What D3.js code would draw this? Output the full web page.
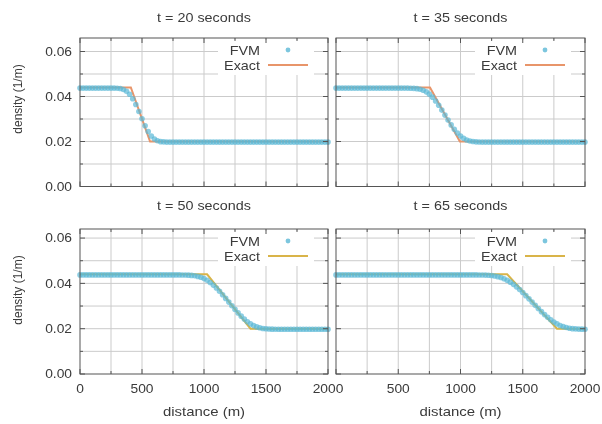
<!DOCTYPE html>
<html>
<head>
<meta charset="utf-8">
<script src="https://cdn.jsdelivr.net/npm/d3@7"></script>
<style>
  html, body { margin: 0; padding: 0; background: #fff; }
  svg { display: block; }
  text { font-family: "Liberation Sans", Arial, Helvetica, sans-serif; fill: #3a3a3a; }
</style>
</head>
<body>
<svg id="chart" width="602" height="424"></svg>
<script>
// ---------------- DATA ----------------
const distance = [
  0, 25, 50, 75, 100, 125, 150, 175, 200, 225,
  250, 275, 300, 325, 350, 375, 400, 425, 450, 475,
  500, 525, 550, 575, 600, 625, 650, 675, 700, 725,
  750, 775, 800, 825, 850, 875, 900, 925, 950, 975,
  1000, 1025, 1050, 1075, 1100, 1125, 1150, 1175, 1200, 1225,
  1250, 1275, 1300, 1325, 1350, 1375, 1400, 1425, 1450, 1475,
  1500, 1525, 1550, 1575, 1600, 1625, 1650, 1675, 1700, 1725,
  1750, 1775, 1800, 1825, 1850, 1875, 1900, 1925, 1950, 1975,
  2000
];

const fvm20 = [
  0.044, 0.044, 0.044, 0.044, 0.044, 0.044, 0.044, 0.044, 0.044, 0.044,
  0.044, 0.044, 0.0439, 0.0438, 0.0434, 0.0426, 0.0413, 0.0393, 0.0367, 0.0336,
  0.0304, 0.0273, 0.0247, 0.0227, 0.0214, 0.0206, 0.0202, 0.0201, 0.020, 0.020,
  0.020, 0.020, 0.020, 0.020, 0.020, 0.020, 0.020, 0.020, 0.020, 0.020,
  0.020, 0.020, 0.020, 0.020, 0.020, 0.020, 0.020, 0.020, 0.020, 0.020,
  0.020, 0.020, 0.020, 0.020, 0.020, 0.020, 0.020, 0.020, 0.020, 0.020,
  0.020, 0.020, 0.020, 0.020, 0.020, 0.020, 0.020, 0.020, 0.020, 0.020,
  0.020, 0.020, 0.020, 0.020, 0.020, 0.020, 0.020, 0.020, 0.020, 0.020,
  0.020
];

const fvm35 = [
  0.044, 0.044, 0.044, 0.044, 0.044, 0.044, 0.044, 0.044, 0.044, 0.044,
  0.044, 0.044, 0.044, 0.044, 0.044, 0.044, 0.044, 0.044, 0.044, 0.044,
  0.044, 0.044, 0.044, 0.0440, 0.04395, 0.04389, 0.04375, 0.04348, 0.04305, 0.04233,
  0.04131, 0.03997, 0.03829, 0.03636, 0.03423, 0.0320, 0.02977, 0.02764, 0.02571, 0.02403,
  0.02269, 0.02167, 0.02095, 0.02052, 0.02025, 0.02011, 0.02005, 0.020, 0.020, 0.020,
  0.020, 0.020, 0.020, 0.020, 0.020, 0.020, 0.020, 0.020, 0.020, 0.020,
  0.020, 0.020, 0.020, 0.020, 0.020, 0.020, 0.020, 0.020, 0.020, 0.020,
  0.020, 0.020, 0.020, 0.020, 0.020, 0.020, 0.020, 0.020, 0.020, 0.020,
  0.020
];

const fvm50 = [
  0.044, 0.044, 0.044, 0.044, 0.044, 0.044, 0.044, 0.044, 0.044, 0.044,
  0.044, 0.044, 0.044, 0.044, 0.044, 0.044, 0.044, 0.044, 0.044, 0.044,
  0.044, 0.044, 0.044, 0.044, 0.044, 0.044, 0.044, 0.044, 0.044, 0.044,
  0.044, 0.044, 0.0440, 0.04398, 0.04395, 0.04390, 0.04379, 0.04362, 0.04335, 0.04294,
  0.04237, 0.04162, 0.04066, 0.03951, 0.03820, 0.03677, 0.03523, 0.03363, 0.0320, 0.03037,
  0.02877, 0.02723, 0.02580, 0.02449, 0.02334, 0.02238, 0.02163, 0.02106, 0.02065, 0.02038,
  0.02021, 0.02010, 0.02005, 0.02002, 0.020, 0.020, 0.020, 0.020, 0.020, 0.020,
  0.020, 0.020, 0.020, 0.020, 0.020, 0.020, 0.020, 0.020, 0.020, 0.020,
  0.020
];

const fvm65 = [
  0.044, 0.044, 0.044, 0.044, 0.044, 0.044, 0.044, 0.044, 0.044, 0.044,
  0.044, 0.044, 0.044, 0.044, 0.044, 0.044, 0.044, 0.044, 0.044, 0.044,
  0.044, 0.044, 0.044, 0.044, 0.044, 0.044, 0.044, 0.044, 0.044, 0.044,
  0.044, 0.044, 0.044, 0.044, 0.044, 0.044, 0.044, 0.044, 0.044, 0.044,
  0.044, 0.044, 0.044, 0.044, 0.044, 0.0440, 0.04398, 0.04395, 0.04391, 0.04383,
  0.04371, 0.04351, 0.04323, 0.04283, 0.04231, 0.04163, 0.04080, 0.03983, 0.03873, 0.03752,
  0.03621, 0.03484, 0.03343, 0.0320, 0.03057, 0.02916, 0.02779, 0.02648, 0.02527, 0.02417,
  0.02320, 0.02237, 0.02169, 0.02117, 0.02077, 0.02049, 0.02029, 0.02017, 0.02009, 0.02005,
  0.02002
];

// Exact (piecewise-linear) solutions: breakpoints in distance and density
const exactX20 = [0, 410, 565, 2000];
const exactX35 = [0, 755, 995, 2000];
const exactX50 = [0, 1025, 1375, 2000];
const exactX65 = [0, 1375, 1775, 2000];
const exactRho = [0.044, 0.044, 0.020, 0.020];

const titles = ["t = 20 seconds", "t = 35 seconds", "t = 50 seconds", "t = 65 seconds"];
const seriesNames = ["FVM", "Exact"];
const xTicks = [0, 500, 1000, 1500, 2000];
const xMinorTicks = [250, 750, 1250, 1750];
const yTicks = [0, 0.02, 0.04, 0.06];
const yMinorTicks = [0.01, 0.03, 0.05];
const yTickLabels = ["0.00", "0.02", "0.04", "0.06"];
const xLabel = "distance (m)";
const yLabel = "density (1/m)";

// ---------------- LAYOUT ----------------
const panelBoxes = [
  { x0: 80,  x1: 328, y0: 38,  y1: 186.5, ymax: 0.066, col: 0, row: 0 },
  { x0: 336, x1: 585, y0: 38,  y1: 186.5, ymax: 0.066, col: 1, row: 0 },
  { x0: 80,  x1: 328, y0: 229, y1: 374,   ymax: 0.064, col: 0, row: 1 },
  { x0: 336, x1: 585, y0: 229, y1: 374,   ymax: 0.064, col: 1, row: 1 }
];
const fvmSets = [fvm20, fvm35, fvm50, fvm65];
const exactSets = [exactX20, exactX35, exactX50, exactX65];
const exactColors = ["#e8956a", "#e8956a", "#d9b448", "#d9b448"];
const fvmColor = "#5ab8d6";
const gridColor = "#cbcbcb";
const borderColor = "#555";
const SX = 1.15; // horizontal stretch of text seen in the reference

const svg = d3.select("#chart");
const defs = svg.append("defs");
defs.append("filter").attr("id", "soft")
  .attr("x", "-5%").attr("y", "-5%").attr("width", "110%").attr("height", "110%")
  .append("feGaussianBlur").attr("stdDeviation", 0.35);
const root = svg.append("g").attr("filter", "url(#soft)");

function hText(g, x, y, str, size, anchor) {
  return g.append("text")
    .attr("transform", `translate(${x},${y}) scale(${SX},1)`)
    .attr("text-anchor", anchor || "middle")
    .style("font-size", size + "px")
    .text(str);
}

panelBoxes.forEach((p, i) => {
  const g = root.append("g");
  const x = d3.scaleLinear().domain([0, 2000]).range([p.x0, p.x1]);
  const y = d3.scaleLinear().domain([0, p.ymax]).range([p.y1, p.y0]);

  // grid
  const gridX = xTicks.concat(xMinorTicks).filter(v => v > 0 && v < 2000);
  const gridY = yTicks.concat(yMinorTicks).filter(v => v > 0);
  g.selectAll(".gx").data(gridX).join("line")
    .attr("x1", d => x(d)).attr("x2", d => x(d))
    .attr("y1", p.y0).attr("y2", p.y1)
    .attr("stroke", gridColor).attr("stroke-width", 1);
  g.selectAll(".gy").data(gridY).join("line")
    .attr("x1", p.x0).attr("x2", p.x1)
    .attr("y1", d => y(d)).attr("y2", d => y(d))
    .attr("stroke", gridColor).attr("stroke-width", 1);

  // legend background
  g.append("rect")
    .attr("x", p.x1 - 110).attr("y", p.y0 + 2)
    .attr("width", 96).attr("height", 35)
    .attr("fill", "#fff");

  // exact line
  const exData = exactSets[i].map((d, k) => [d, exactRho[k]]);
  const line = d3.line().x(d => x(d[0])).y(d => y(d[1]));
  g.append("path").datum(exData)
    .attr("d", line)
    .attr("fill", "none")
    .attr("stroke", exactColors[i])
    .attr("stroke-width", 2);

  // FVM points
  const pts = distance.map((d, k) => [d, fvmSets[i][k]]);
  g.selectAll(".pt").data(pts).join("circle")
    .attr("cx", d => x(d[0])).attr("cy", d => y(d[1]) + 0.6)
    .attr("r", 2.8)
    .attr("fill", fvmColor)
    .attr("fill-opacity", 0.7);

  // border
  g.append("rect")
    .attr("x", p.x0).attr("y", p.y0)
    .attr("width", p.x1 - p.x0).attr("height", p.y1 - p.y0)
    .attr("fill", "none").attr("stroke", borderColor).attr("stroke-width", 1);

  // ticks (inward, mirrored)
  const tickG = g.append("g").attr("stroke", borderColor).attr("stroke-width", 1);
  xTicks.concat(xMinorTicks).forEach(v => {
    const len = xTicks.includes(v) ? 5 : 3;
    tickG.append("line").attr("x1", x(v)).attr("x2", x(v)).attr("y1", p.y1).attr("y2", p.y1 - len);
    tickG.append("line").attr("x1", x(v)).attr("x2", x(v)).attr("y1", p.y0).attr("y2", p.y0 + len);
  });
  yTicks.concat(yMinorTicks).forEach(v => {
    const len = yTicks.includes(v) ? 5 : 3;
    tickG.append("line").attr("y1", y(v)).attr("y2", y(v)).attr("x1", p.x0).attr("x2", p.x0 + len);
    tickG.append("line").attr("y1", y(v)).attr("y2", y(v)).attr("x1", p.x1).attr("x2", p.x1 - len);
  });

  // legend
  hText(g, p.x1 - 68, p.y0 + 17, seriesNames[0], 12.5, "end");
  hText(g, p.x1 - 68, p.y0 + 32, seriesNames[1], 12.5, "end");
  g.append("circle").attr("cx", p.x1 - 40).attr("cy", p.y0 + 12)
    .attr("r", 2.4).attr("fill", fvmColor).attr("fill-opacity", 0.8);
  g.append("line")
    .attr("x1", p.x1 - 60).attr("x2", p.x1 - 20)
    .attr("y1", p.y0 + 27).attr("y2", p.y0 + 27)
    .attr("stroke", exactColors[i]).attr("stroke-width", 2);

  // title
  const cx = (p.x0 + p.x1) / 2;
  hText(g, cx, p.row === 0 ? 22 : 210, titles[i], 12.5, "middle");

  // y tick labels + label (left column)
  if (p.col === 0) {
    yTicks.forEach((v, k) => {
      hText(g, 72, y(v) + 4.3, yTickLabels[k], 12, "end");
    });
    g.append("text")
      .attr("transform", `translate(22, ${p.row === 0 ? 99 : 290}) rotate(-90)`)
      .attr("text-anchor", "middle")
      .style("font-size", "12px")
      .text(yLabel);
  }
  // x tick labels + label (bottom row)
  if (p.row === 1) {
    xTicks.forEach(v => {
      if (p.col === 1 && v === 0) return;
      hText(g, x(v), 393, String(v), 12, "middle");
    });
    hText(g, cx, 416, xLabel, 13, "middle");
  }
});
</script>
</body>
</html>
